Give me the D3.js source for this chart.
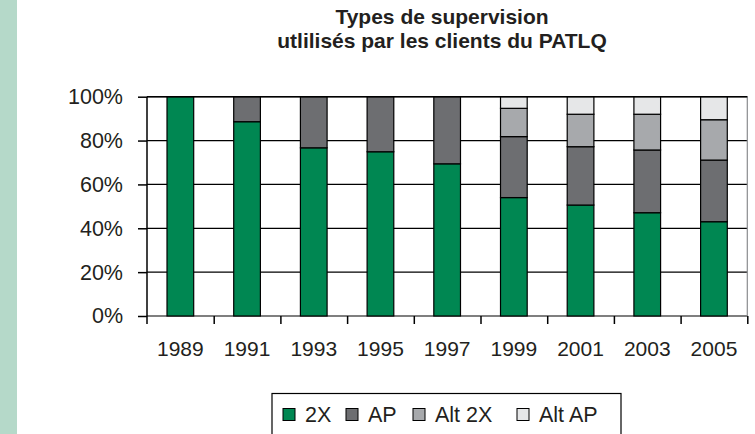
<!DOCTYPE html>
<html>
<head>
  <meta charset="utf-8">
  <title>Types de supervision</title>
  <script src="https://d3js.org/d3.v7.min.js"></script>
  <style>
    body { margin: 0; background: #fff; }
    svg text { font-family: "Liberation Sans", Arial, sans-serif; fill: #231f20; }
  </style>
</head>
<body>
  <div id="Grafica"></div>
  <script>
    // Donnees (en %)
    const annees = ["1989", "1991", "1993", "1995", "1997", "1999", "2001", "2003", "2005"];
    const serie2X    = [100, 88.6, 76.7, 74.9, 69.4, 54.0, 50.6, 47.1, 43.0];
    const serieAP    = [0, 11.4, 23.3, 25.1, 30.6, 27.8, 26.6, 28.6, 28.1];
    const serieAlt2X = [0, 0, 0, 0, 0, 12.9, 14.8, 16.3, 18.4];
    const serieAltAP = [0, 0, 0, 0, 0, 5.3, 8.0, 8.0, 10.5];
    const noms = ["2X", "AP", "Alt 2X", "Alt AP"];
    const couleurs = ["#008752", "#6d6e71", "#a7a9ac", "#e6e7e8"];
    const yTicks = [0, 20, 40, 60, 80, 100];

    const W = 755, H = 434;
    const margin = {top: 96.7, right: 7.7, bottom: 118, left: 147};
    const width = W - margin.left - margin.right;
    const height = H - margin.top - margin.bottom;

    const table = annees.map((a, i) => ({
      annee: a, "2X": serie2X[i], "AP": serieAP[i], "Alt 2X": serieAlt2X[i], "Alt AP": serieAltAP[i]
    }));
    const stack = d3.stack().keys(noms)(table);

    const x = d3.scaleBand().domain(annees).range([0, width]);
    const xb = d3.scaleLinear().domain([0, annees.length]).range([0, width]);
    const y = d3.scaleLinear().domain([0, 100]).range([height, 0]);
    const barW = x.bandwidth() * 0.4;

    const root = d3.select("#Grafica").append("svg")
      .attr("width", W).attr("height", H);

    // bande verte a gauche
    root.append("rect").attr("x", 0).attr("y", 0).attr("width", 17).attr("height", H)
      .attr("fill", "#b5d9c9");

    // titre
    const titre = root.append("text").attr("text-anchor", "middle")
      .style("font-weight", "bold").style("font-size", "21px");
    titre.append("tspan").attr("x", 442).attr("y", 24).text("Types de supervision");
    titre.append("tspan").attr("x", 442).attr("y", 48).text("utlilisés par les clients du PATLQ");

    const svg = root.append("g").attr("transform", `translate(${margin.left},${margin.top})`);

    // grille horizontale
    svg.selectAll(".grid").data(yTicks).enter().append("line")
      .attr("x1", 0).attr("x2", width)
      .attr("y1", d => y(d)).attr("y2", d => y(d))
      .attr("stroke", "#000").attr("stroke-width", 1.2);

    // bordure droite
    svg.append("line").attr("x1", width).attr("x2", width).attr("y1", 0).attr("y2", height)
      .attr("stroke", "#8a8c8e").attr("stroke-width", 1.2);

    // barres empilees
    svg.selectAll(".serie").data(stack).enter().append("g")
      .attr("fill", (d, i) => couleurs[i])
      .selectAll("rect").data(d => d.filter(p => p[1] - p[0] > 0)).enter().append("rect")
      .attr("x", d => x(d.data.annee) + (x.bandwidth() - barW) / 2)
      .attr("width", barW)
      .attr("y", d => y(d[1]))
      .attr("height", d => y(d[0]) - y(d[1]))
      .attr("stroke", "#000").attr("stroke-width", 1.2);

    // axe Y
    const yAxis = svg.append("g")
      .call(d3.axisLeft(y).tickValues(yTicks).tickFormat(d => d + "%").tickSize(9).tickPadding(15));
    yAxis.select(".domain").remove();
    yAxis.selectAll("line").attr("stroke", "#000").attr("stroke-width", 1.5);
    yAxis.selectAll("text").style("font-size", "21.5px").attr("fill", "#231f20");
    svg.append("line").attr("x1", 0).attr("x2", 0).attr("y1", 0).attr("y2", height + 8)
      .attr("stroke", "#000").attr("stroke-width", 1.5);

    // axe X : traits aux limites des categories
    const xTicks = svg.append("g").attr("transform", `translate(0,${height})`)
      .call(d3.axisBottom(xb).tickValues(d3.range(1, annees.length + 1)).tickFormat("").tickSize(8));
    xTicks.select(".domain").remove();
    xTicks.selectAll("line").attr("stroke", "#000").attr("stroke-width", 1.5);

    const xAxis = svg.append("g").attr("transform", `translate(0,${height})`)
      .call(d3.axisBottom(x).tickSize(0).tickPadding(25));
    xAxis.select(".domain").remove();
    xAxis.selectAll("text").style("font-size", "21px").attr("fill", "#231f20");

    // bordure haute
    svg.append("line").attr("x1", 0).attr("x2", width).attr("y1", 0).attr("y2", 0)
      .attr("stroke", "#000").attr("stroke-width", 1.5);

    // legende
    const legende = root.append("g");
    legende.append("rect").attr("x", 272).attr("y", 393.5).attr("width", 349).attr("height", 60)
      .attr("fill", "#fff").attr("stroke", "#000").attr("stroke-width", 1.2);
    const posX = [283, 346, 413, 517];
    noms.forEach((n, i) => {
      legende.append("rect").attr("x", posX[i]).attr("y", 408.5).attr("width", 12).attr("height", 12)
        .attr("fill", couleurs[i]).attr("stroke", "#000").attr("stroke-width", 1);
      legende.append("text").attr("x", posX[i] + 22).attr("y", 421.5)
        .style("font-size", "21.5px").text(n);
    });
  </script>
</body>
</html>
